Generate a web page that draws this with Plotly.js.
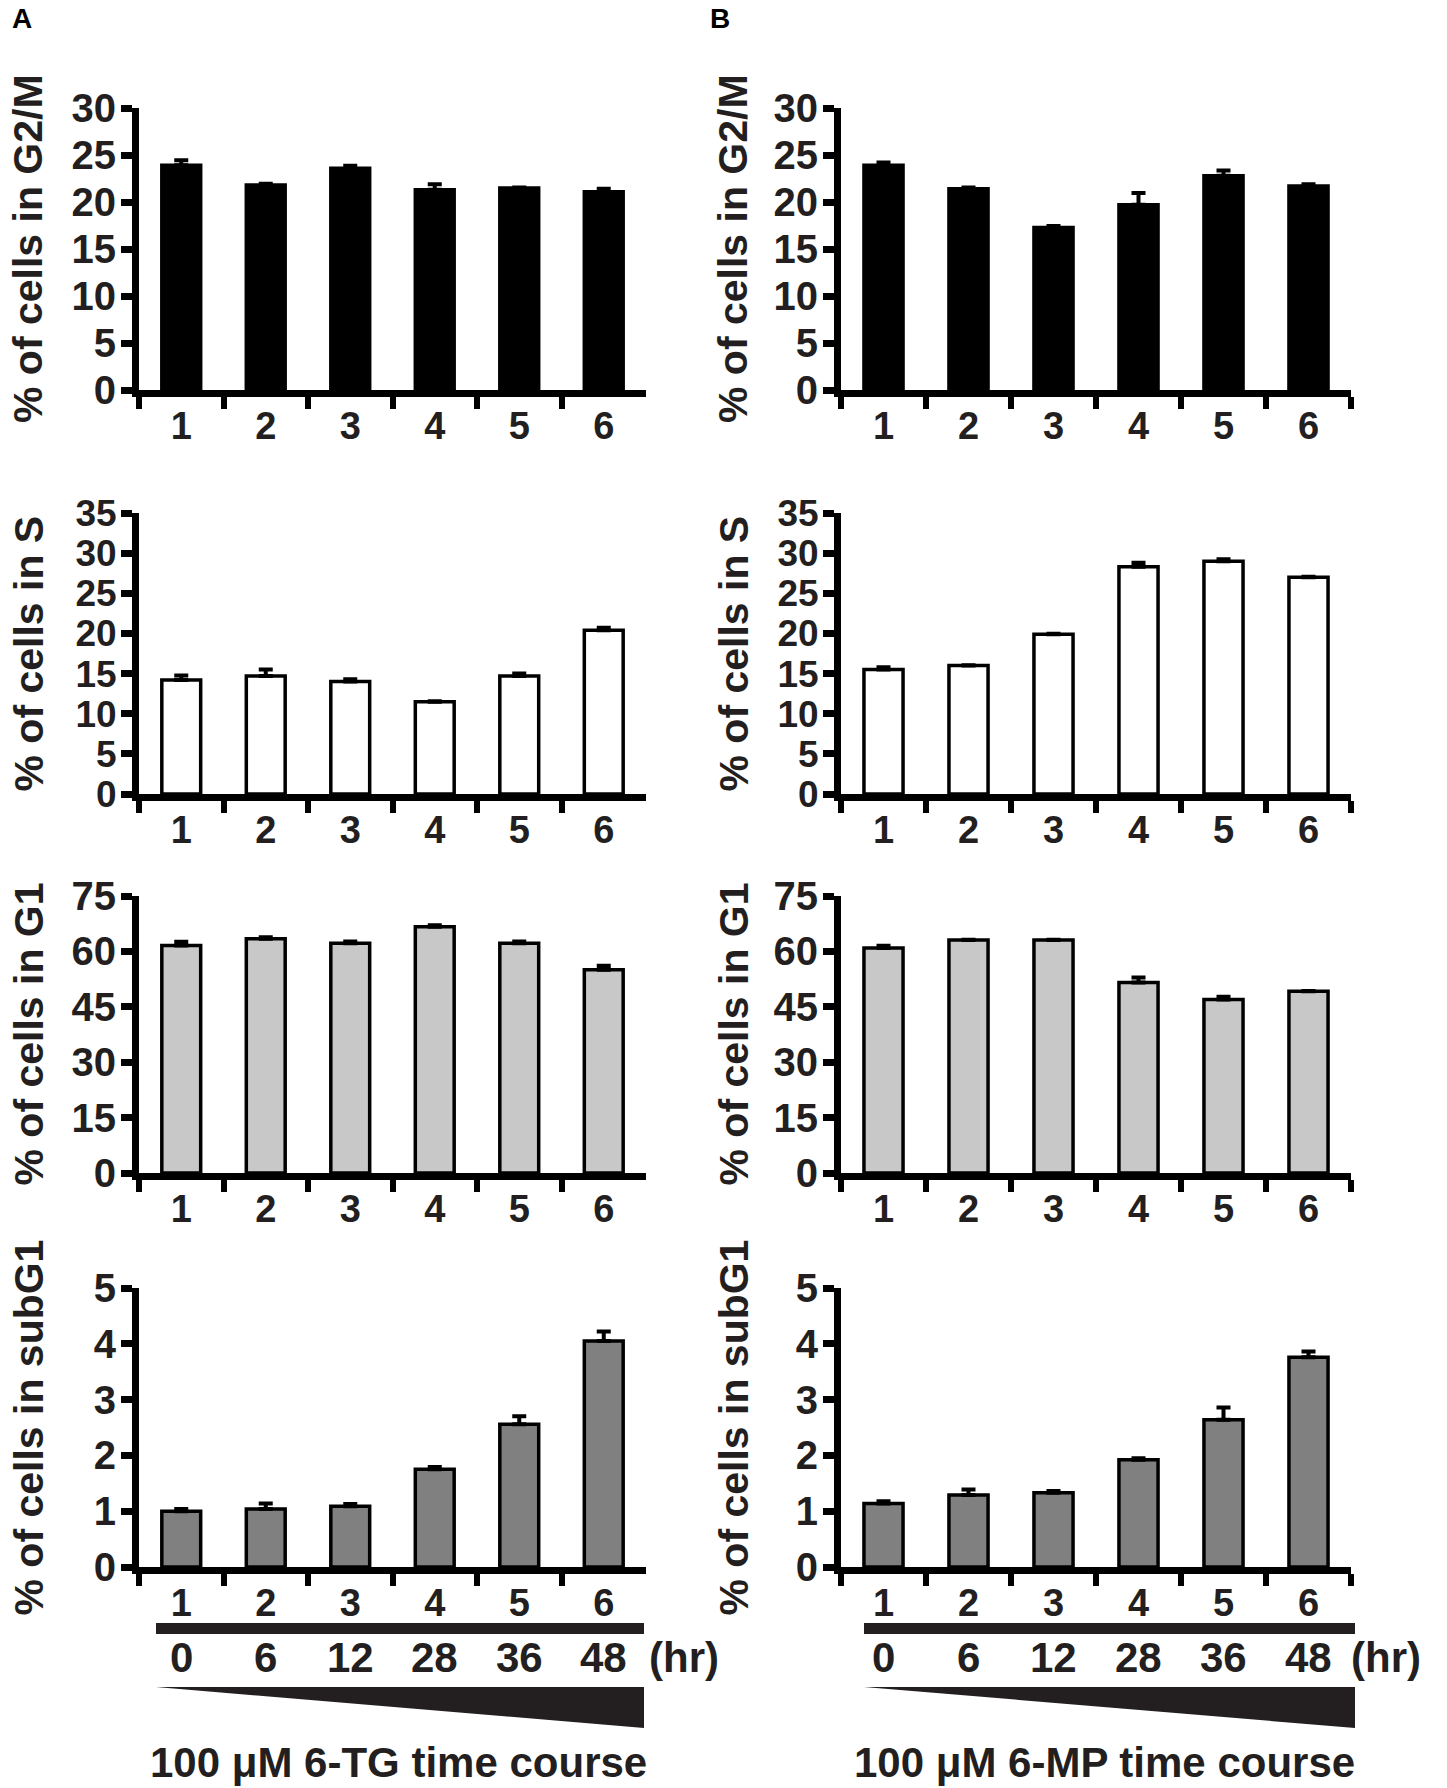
<!DOCTYPE html>
<html>
<head>
<meta charset="utf-8">
<script src="https://cdn.plot.ly/plotly-3.0.1.min.js"></script>
<style>
  html, body { margin: 0; padding: 0; background: #fff; }
  #chart { width: 1447px; height: 1788px; }
</style>
</head>
<body>
<div id="chart"></div>
<script>
// sample groups and the matching time points
const groups = ['1', '2', '3', '4', '5', '6']
const hours = ['0', '6', '12', '28', '36', '48']

// % of cells per phase, 6-TG (panel A) and 6-MP (panel B), mean and SEM
const g2m_tg = [23.9, 21.8, 23.6, 21.3, 21.5, 21.1]
const g2m_tg_err = [0.55, 0.15, 0.25, 0.6, 0.05, 0.3]
const g2m_mp = [23.9, 21.4, 17.3, 19.7, 22.8, 21.7]
const g2m_mp_err = [0.3, 0.15, 0.15, 1.25, 0.55, 0.2]

const s_tg = [14.2, 14.7, 14.0, 11.5, 14.7, 20.4]
const s_tg_err = [0.55, 0.8, 0.3, 0.05, 0.3, 0.3]
const s_mp = [15.5, 16.0, 19.9, 28.3, 29.0, 27.0]
const s_mp_err = [0.3, 0.05, 0.05, 0.5, 0.25, 0.05]

const g1_tg = [61.6, 63.4, 62.2, 66.7, 62.2, 55.0]
const g1_tg_err = [1.0, 0.45, 0.5, 0.35, 0.5, 1.1]
const g1_mp = [60.9, 63.1, 63.1, 51.6, 47.0, 49.2]
const g1_mp_err = [0.6, 0.05, 0.05, 1.3, 0.7, 0.05]

const sub_tg = [1.0, 1.04, 1.09, 1.75, 2.56, 4.05]
const sub_tg_err = [0.04, 0.1, 0.04, 0.04, 0.14, 0.17]
const sub_mp = [1.14, 1.29, 1.33, 1.92, 2.64, 3.76]
const sub_mp_err = [0.04, 0.1, 0.03, 0.03, 0.22, 0.1]

const row_titles = ['% of cells in G2/M', '% of cells in S', '% of cells in G1', '% of cells in subG1']
const row_max = [30, 35, 75, 5]
const row_dtick = [5, 5, 15, 1]
const row_colors = ['#000000', '#ffffff', '#c8c8c8', '#808080']
const panel_tg = [[g2m_tg, g2m_tg_err], [s_tg, s_tg_err], [g1_tg, g1_tg_err], [sub_tg, sub_tg_err]]
const panel_mp = [[g2m_mp, g2m_mp_err], [s_mp, s_mp_err], [g1_mp, g1_mp_err], [sub_mp, sub_mp_err]]
const captions = ['100 \u03bcM 6-TG time course', '100 \u03bcM 6-MP time course']

const W = 1447, H = 1788
const INK = '#231f20'
const FONT = 'Liberation Sans, Arial, sans-serif'

// pixel helpers -> paper coords
const px = x => x / W
const py = y => 1 - y / H

// plot boxes in pixels
const col_x = [[139, 646], [841, 1351]]
const row_y = [[108, 390], [513, 794], [896, 1173], [1288, 1567]]

let data = []
let layout = {
    width: W, height: H,
    margin: {l: 0, r: 0, t: 0, b: 0},
    paper_bgcolor: '#fff', plot_bgcolor: 'rgba(0,0,0,0)',
    showlegend: false,
    bargap: 0.54,
    font: {family: FONT, color: INK},
    annotations: [],
    shapes: []
}

function zeros(n) {
    let z = []
    for (let i = 0; i < n; i++) z.push(0)
    return z
}

function boldFont(size, color) {
    return {family: FONT, size: size, color: color || INK, weight: 'bold'}
}

for (let r = 0; r < 4; r++) {
    for (let c = 0; c < 2; c++) {
        let k = r * 2 + c + 1
        let xname = k === 1 ? 'xaxis' : 'xaxis' + k
        let yname = k === 1 ? 'yaxis' : 'yaxis' + k
        let [vals, errs] = c === 0 ? panel_tg[r] : panel_mp[r]

        data.push({
            type: 'bar',
            x: groups,
            y: vals,
            xaxis: 'x' + k,
            yaxis: 'y' + k,
            marker: {color: row_colors[r], line: {color: '#000', width: 3.5}},
            error_y: {
                type: 'data', symmetric: false, array: errs, arrayminus: zeros(errs.length),
                color: '#000', thickness: 4, width: 7
            },
            hoverinfo: 'skip'
        })

        layout[xname] = {
            domain: [px(col_x[c][0]), px(col_x[c][1])],
            anchor: 'y' + k,
            type: 'category',
            range: [-0.5, 5.5],
            tickson: 'boundaries',
            ticks: 'outside', ticklen: 12, tickwidth: 6, tickcolor: '#000',
            showline: true, linewidth: 7, linecolor: '#000',
            showgrid: false, zeroline: false,
            tickfont: boldFont(38),
            ticklabelstandoff: -4,
            fixedrange: true
        }
        layout[yname] = {
            domain: [py(row_y[r][1]), py(row_y[r][0])],
            anchor: 'x' + k,
            range: [0, row_max[r]],
            dtick: row_dtick[r], tick0: 0,
            ticks: 'outside', ticklen: 11, tickwidth: 7, tickcolor: '#000',
            showline: true, linewidth: 7, linecolor: '#000',
            showgrid: false, zeroline: false,
            tickfont: boldFont(r === 1 ? 37 : 40),
            ticklabelstandoff: -3,
            fixedrange: true
        }

        // rotated y title
        layout.annotations.push({
            text: row_titles[r], textangle: -90,
            xref: 'paper', yref: 'paper',
            x: px(c === 0 ? 28 : 733), y: py((row_y[r][0] + row_y[r][1]) / 2),
            xanchor: 'center', yanchor: 'middle', showarrow: false,
            font: boldFont(41)
        })
    }
}

// time course strip under the last row
for (let c = 0; c < 2; c++) {
    let k = 7 + c
    let left = c === 0 ? 156 : 864
    let right = c === 0 ? 644 : 1355

    layout.shapes.push({
        type: 'rect', xref: 'paper', yref: 'paper',
        x0: px(left), x1: px(right), y0: py(1634), y1: py(1623),
        fillcolor: INK, line: {width: 0}
    })
    layout.shapes.push({
        type: 'path', xref: 'paper', yref: 'paper',
        path: `M ${px(left)},${py(1687)} L ${px(right)},${py(1687)} L ${px(right)},${py(1728)} Z`,
        fillcolor: INK, line: {width: 0}
    })

    hours.forEach((h, i) => {
        layout.annotations.push({
            text: h, xref: 'x' + k, yref: 'paper', x: i, y: py(1657),
            xanchor: 'center', yanchor: 'middle', showarrow: false,
            font: boldFont(42)
        })
    })
    layout.annotations.push({
        text: '(hr)', xref: 'paper', yref: 'paper', x: px(c === 0 ? 684 : 1386), y: py(1657),
        xanchor: 'center', yanchor: 'middle', showarrow: false,
        font: boldFont(42)
    })
    layout.annotations.push({
        text: captions[c], xref: 'paper', yref: 'paper',
        x: px(c === 0 ? 398 : 1104), y: 0,
        xanchor: 'center', yanchor: 'bottom', showarrow: false,
        font: boldFont(42)
    })
}

// panel letters
const letters = [['A', 22], ['B', 720]]
letters.forEach(([t, x]) => {
    layout.annotations.push({
        text: t, xref: 'paper', yref: 'paper', x: px(x), y: py(18),
        xanchor: 'center', yanchor: 'middle', showarrow: false,
        font: boldFont(28, '#000')
    })
})

Plotly.newPlot('chart', data, layout, {displayModeBar: false, staticPlot: true})
</script>
</body>
</html>
